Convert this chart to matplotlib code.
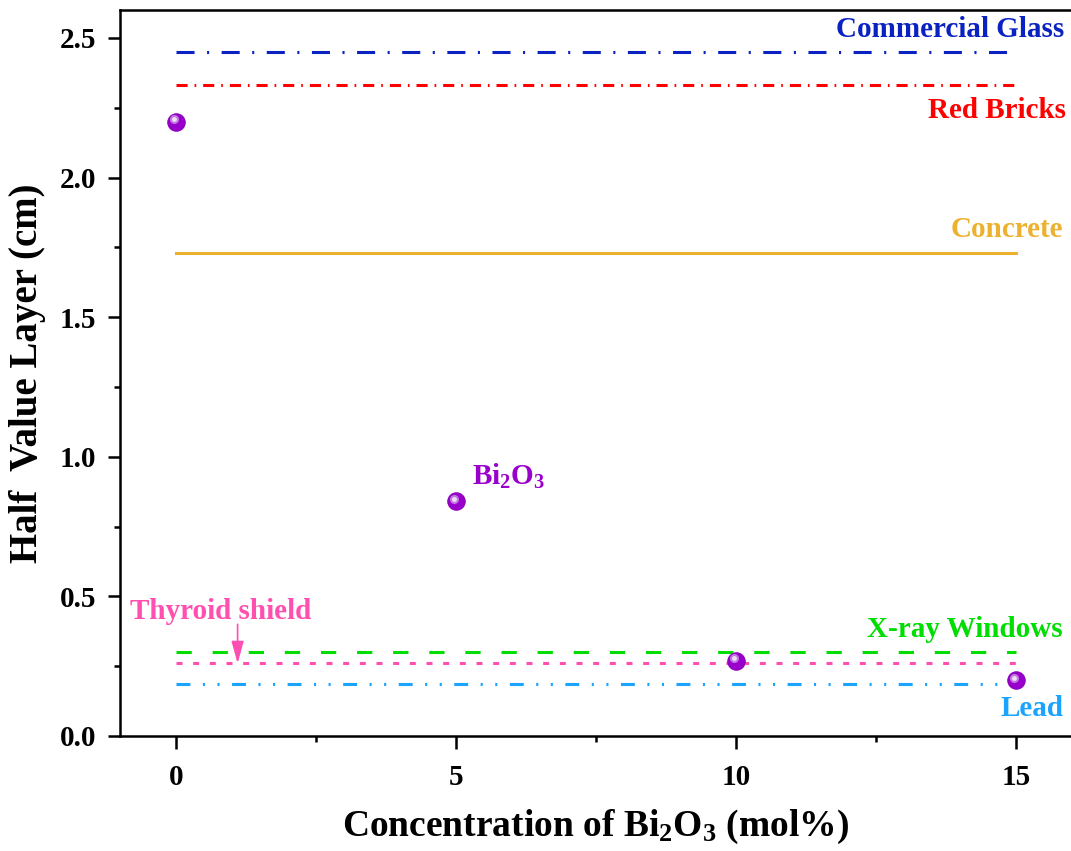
import matplotlib
matplotlib.use('Agg')
import matplotlib.pyplot as plt
import matplotlib.transforms as mtransforms

plt.rcParams['font.family'] = ['Liberation Serif', 'DejaVu Serif']
plt.rcParams['font.weight'] = 'bold'
plt.rcParams['mathtext.fontset'] = 'custom'
plt.rcParams['mathtext.rm'] = 'Liberation Serif:bold'
plt.rcParams['mathtext.it'] = 'Liberation Serif:bold'
plt.rcParams['mathtext.bf'] = 'Liberation Serif:bold'
plt.rcParams['lines.scale_dashes'] = False

# data
conc = [0, 5, 10, 15]
hvl = [2.20, 0.84, 0.27, 0.20]

ref_names = ['Commercial Glass', 'Red Bricks', 'Concrete', 'X-ray Windows', 'Thyroid shield', 'Lead']
ref_values = [2.45, 2.33, 1.73, 0.30, 0.26, 0.185]
ref_colors = ['#0B22C2', '#FF0000', '#EBB12F', '#00DD00', '#FF4FB0', '#1AA3FF']
ref_styles = [(0, (13, 9, 1.5, 9)),
              (0, (8, 5, 1.2, 5)),
              '-',
              (0, (11, 15)),
              (0, (4.3, 7.7)),
              (0, (10, 9, 1.5, 9, 1.5, 9))]

fig = plt.figure(figsize=(10.71, 8.51), dpi=100)
ax = fig.add_axes([120 / 1071, 115 / 851, 952 / 1071, 726 / 851])

for val, col, ls in zip(ref_values, ref_colors, ref_styles):
    ax.plot([0, 15], [val, val], color=col, linestyle=ls, linewidth=2.2)

# spheres
ax.plot(conc, hvl, linestyle='none', marker='o', markersize=12.5,
        color='#9A00CC', markeredgecolor='#8A00BA', markeredgewidth=0.8, zorder=5)
hl = mtransforms.offset_copy(ax.transData, fig=fig, x=-2.5, y=2.5, units='dots')
ax.plot(conc, hvl, linestyle='none', marker='o', markersize=6.5,
        color='#C27AE0', markeredgewidth=0, transform=hl, zorder=6)
ax.plot(conc, hvl, linestyle='none', marker='o', markersize=3.5,
        color='#F2DDF7', markeredgewidth=0, transform=hl, zorder=7)

# labels
fs = 21
ax.text(15.87, 2.53, 'Commercial Glass', color=ref_colors[0], fontsize=fs,
        ha='right', va='center', fontweight='bold')
ax.text(15.9, 2.24, 'Red Bricks', color=ref_colors[1], fontsize=fs,
        ha='right', va='center', fontweight='bold')
ax.text(15.84, 1.815, 'Concrete', color=ref_colors[2], fontsize=fs,
        ha='right', va='center', fontweight='bold')
ax.text(15.84, 0.382, 'X-ray Windows', color=ref_colors[3], fontsize=fs,
        ha='right', va='center', fontweight='bold')
ax.text(15.84, 0.099, 'Lead', color=ref_colors[5], fontsize=fs,
        ha='right', va='center', fontweight='bold')
ax.text(5.29, 0.93, 'Bi$_2$O$_3$', color='#9A00CC', fontsize=fs,
        ha='left', va='center', fontweight='bold')
ax.text(-0.83, 0.447, 'Thyroid shield', color=ref_colors[4], fontsize=fs,
        ha='left', va='center', fontweight='bold')
ax.annotate('', xy=(1.1, 0.26), xytext=(1.1, 0.40),
            arrowprops=dict(arrowstyle='-|>,head_length=0.9,head_width=0.25',
                            color=ref_colors[4], lw=1.2,
                            mutation_scale=15, shrinkA=0, shrinkB=0))

ax.set_xlim(-1, 16)
ax.set_ylim(0, 2.6)
ax.set_xticks([0, 5, 10, 15])
ax.set_xticks([2.5, 7.5, 12.5], minor=True)
ax.set_yticks([0, 0.5, 1.0, 1.5, 2.0, 2.5])
ax.set_yticks([0.25, 0.75, 1.25, 1.75, 2.25], minor=True)
ax.set_yticklabels(['0.0', '0.5', '1.0', '1.5', '2.0', '2.5'])

for s in ax.spines.values():
    s.set_linewidth(1.8)
ax.spines['right'].set_visible(False)
ax.tick_params(which='major', direction='out', length=9, width=1.8, labelsize=fs, pad=8)
ax.tick_params(which='minor', direction='out', length=4.5, width=1.8)
ax.tick_params(axis='x', which='major', pad=11)
for lab in ax.get_xticklabels() + ax.get_yticklabels():
    lab.set_fontweight('bold')

ax.set_xlabel('Concentration of Bi$_2$O$_3$ (mol%)', fontsize=27, fontweight='bold', labelpad=12)
ax.set_ylabel('Half  Value Layer (cm)', fontsize=28, fontweight='bold', labelpad=10)

fig.savefig('out.png', dpi=100)
